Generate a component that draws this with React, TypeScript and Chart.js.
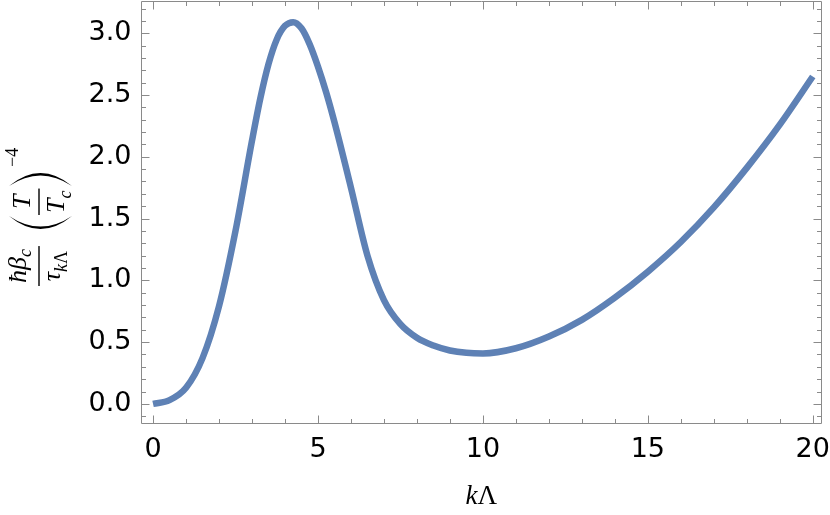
import React, { useEffect, useRef } from "react";
import { Chart, registerables } from "chart.js";

Chart.register(...registerables);

// ---- data ----
const kLambda = [
  0, 0.5, 1, 1.5, 2, 2.5, 3, 3.25, 3.5, 3.75, 4, 4.25, 4.5, 4.75, 5, 5.25, 5.5,
  6, 6.5, 7, 7.5, 8, 8.5, 9, 9.5, 10, 11, 12, 13, 14, 15, 16, 17, 18, 19, 20,
];
const rate = [
  0.0, 0.03, 0.13, 0.37, 0.79, 1.4, 2.13, 2.47, 2.75, 2.95, 3.06, 3.09, 3.04,
  2.91, 2.73, 2.52, 2.28, 1.75, 1.2, 0.84, 0.645, 0.535, 0.472, 0.432, 0.413,
  0.408, 0.45, 0.545, 0.68, 0.86, 1.07, 1.31, 1.59, 1.91, 2.26, 2.65,
];
const xTickValues = [0, 5, 10, 15, 20];
const yTickValues = [0, 0.5, 1.0, 1.5, 2.0, 2.5, 3.0];
const xMinorTicks = [0, 1, 2, 3, 4, 5, 6, 7, 8, 9, 10, 11, 12, 13, 14, 15, 16, 17, 18, 19, 20];
const yMinorTicks = [
  -0.1, 0, 0.1, 0.2, 0.3, 0.4, 0.5, 0.6, 0.7, 0.8, 0.9, 1.0, 1.1, 1.2, 1.3, 1.4,
  1.5, 1.6, 1.7, 1.8, 1.9, 2.0, 2.1, 2.2, 2.3, 2.4, 2.5, 2.6, 2.7, 2.8, 2.9, 3.0,
  3.1, 3.2,
];
const X_MIN = -0.38;
const X_MAX = 20.28;
const Y_MIN = -0.159;
const Y_MAX = 3.261;

const LINE_COLOR = "#5E81B5";
const FRAME_COLOR = "#8a8a8a";
const SERIF = '"Liberation Serif", "Times New Roman", serif';
const SANS = '"DejaVu Sans", sans-serif';

type Part = { t: string; size: number; italic: boolean; dv: number };

function fontOf(p: Part) {
  return `${p.italic ? "italic " : ""}${p.size}px ${SERIF}`;
}
function widthOf(ctx: CanvasRenderingContext2D, parts: Part[]) {
  let w = 0;
  for (const p of parts) {
    ctx.font = fontOf(p);
    w += ctx.measureText(p.t).width;
  }
  return w;
}
function drawParts(ctx: CanvasRenderingContext2D, parts: Part[], u: number, v: number) {
  let x = u;
  for (const p of parts) {
    ctx.font = fontOf(p);
    ctx.fillText(p.t, x, v + p.dv);
    x += ctx.measureText(p.t).width;
  }
}
function drawFraction(
  ctx: CanvasRenderingContext2D,
  num: Part[],
  den: Part[],
  u0: number,
  numBase: number,
  denBase: number,
  pad: number
) {
  const wn = widthOf(ctx, num);
  const wd = widthOf(ctx, den);
  const len = Math.max(wn, wd) + 2 * pad;
  drawParts(ctx, num, u0 + (len - wn) / 2, numBase);
  drawParts(ctx, den, u0 + (len - wd) / 2, denBase);
  ctx.fillRect(u0, -0.7, len, 1.4);
  return len;
}
function drawParen(ctx: CanvasRenderingContext2D, uEnd: number, uMid: number, vTop: number, vBot: number) {
  const vm = (vTop + vBot) / 2;
  const thick = uMid < uEnd ? 2.4 : -2.4;
  const c1 = 2 * uMid - uEnd;
  const c2 = 2 * (uMid + thick) - uEnd;
  ctx.beginPath();
  ctx.moveTo(uEnd, vTop);
  ctx.quadraticCurveTo(c1, vm, uEnd, vBot);
  ctx.quadraticCurveTo(c2, vm, uEnd, vTop);
  ctx.closePath();
  ctx.fill();
}

function drawYTitle(ctx: CanvasRenderingContext2D) {
  const big = 26;
  const small = 18;
  ctx.save();
  ctx.translate(39, 213);
  ctx.rotate(-Math.PI / 2);
  ctx.fillStyle = "#000";
  ctx.textBaseline = "alphabetic";
  ctx.textAlign = "left";
  drawFraction(
    ctx,
    [
      { t: "\u0127", size: big, italic: true, dv: 0 },
      { t: "\u03B2", size: big, italic: true, dv: 0 },
      { t: "c", size: small, italic: true, dv: 5 },
    ],
    [
      { t: "\u03C4", size: big, italic: true, dv: 0 },
      { t: "k", size: small, italic: true, dv: 7 },
      { t: "\u039B", size: small, italic: false, dv: 7 },
    ],
    -73,
    -13,
    21,
    3
  );
  drawParen(ctx, -3, -16, -30, 33);
  drawFraction(
    ctx,
    [{ t: "T", size: big, italic: true, dv: 0 }],
    [
      { t: "T", size: big, italic: true, dv: 0 },
      { t: "c", size: small, italic: true, dv: 7 },
    ],
    -2,
    -9,
    25,
    2
  );
  drawParen(ctx, 27, 40, -30, 33);
  drawParts(
    ctx,
    [
      { t: "\u2212", size: small, italic: false, dv: 0 },
      { t: "4", size: small, italic: false, dv: 0 },
    ],
    46,
    -21
  );
  ctx.restore();
}

function drawXTitle(ctx: CanvasRenderingContext2D, cx: number) {
  const parts: Part[] = [
    { t: "k", size: 27, italic: true, dv: 0 },
    { t: "\u039B", size: 27, italic: false, dv: 0 },
  ];
  ctx.save();
  ctx.fillStyle = "#000";
  ctx.textBaseline = "alphabetic";
  ctx.textAlign = "left";
  const w = widthOf(ctx, parts);
  drawParts(ctx, parts, cx - w / 2, 504);
  ctx.restore();
}

const framePlugin = {
  id: "mmaFrame",
  afterDatasetsDraw(chart: any) {
    const { ctx, chartArea: a, scales } = chart;
    const xs = scales.x;
    const ys = scales.y;
    const L = Math.round(a.left) + 0.5;
    const R = Math.round(a.right) - 0.5;
    const T = Math.round(a.top) + 0.5;
    const B = Math.round(a.bottom) - 0.5;
    ctx.save();
    ctx.strokeStyle = FRAME_COLOR;
    ctx.lineWidth = 1;
    ctx.beginPath();
    ctx.rect(L, T, R - L, B - T);
    for (const v of xMinorTicks) {
      const px = Math.round(xs.getPixelForValue(v)) + 0.5;
      const len = xTickValues.includes(v) ? 8 : 4.5;
      ctx.moveTo(px, B);
      ctx.lineTo(px, B - len);
      ctx.moveTo(px, T);
      ctx.lineTo(px, T + len);
    }
    for (const v of yMinorTicks) {
      const py = Math.round(ys.getPixelForValue(v)) + 0.5;
      const major = yTickValues.some((t) => Math.abs(t - v) < 1e-9);
      const len = major ? 8 : 4.5;
      ctx.moveTo(L, py);
      ctx.lineTo(L + len, py);
      ctx.moveTo(R, py);
      ctx.lineTo(R - len, py);
    }
    ctx.stroke();
    ctx.restore();
    drawYTitle(ctx);
    drawXTitle(ctx, (a.left + a.right) / 2);
  },
};

export default function App() {
  const ref = useRef<HTMLCanvasElement | null>(null);
  useEffect(() => {
    const canvas = ref.current;
    if (!canvas) return;
    const chart = new Chart(canvas, {
      type: "line",
      data: {
        datasets: [
          {
            data: kLambda.map((x, i) => ({ x, y: rate[i] })),
            borderColor: LINE_COLOR,
            borderWidth: 6.5,
            pointRadius: 0,
            cubicInterpolationMode: "monotone",
            fill: false,
          },
        ],
      },
      options: {
        responsive: false,
        animation: false,
        devicePixelRatio: 1,
        layout: { padding: { left: 0, right: 8, top: 1, bottom: 0 } },
        plugins: { legend: { display: false }, tooltip: { enabled: false } },
        scales: {
          x: {
            type: "linear",
            min: X_MIN,
            max: X_MAX,
            grid: { display: false, drawTicks: false },
            border: { display: false },
            ticks: {
              color: "#000",
              font: { family: SANS, size: 27 },
              padding: 10,
              maxRotation: 0,
              autoSkip: false,
              callback: (v: any) => String(v),
            },
            afterBuildTicks: (s: any) => {
              s.ticks = xTickValues.map((value) => ({ value }));
            },
            afterFit: (s: any) => {
              s.height = 91.5;
              s.paddingLeft = 0;
              s.paddingRight = 0;
            },
          },
          y: {
            type: "linear",
            min: Y_MIN,
            max: Y_MAX,
            grid: { display: false, drawTicks: false },
            border: { display: false },
            ticks: {
              color: "#000",
              font: { family: SANS, size: 27 },
              padding: 9,
              autoSkip: false,
              callback: (v: any) => Number(v).toFixed(1),
            },
            afterBuildTicks: (s: any) => {
              s.ticks = yTickValues.map((value) => ({ value }));
            },
            afterFit: (s: any) => {
              s.width = 140.5;
              s.paddingTop = 0;
              s.paddingBottom = 0;
            },
          },
        },
      },
      plugins: [framePlugin],
    });
    return () => chart.destroy();
  }, []);
  return (
    <div style={{ position: "absolute", left: 0, top: 0, width: 830, height: 515, background: "#fff" }}>
      <canvas ref={ref} width={830} height={515} style={{ width: 830, height: 515, display: "block" }} />
    </div>
  );
}
